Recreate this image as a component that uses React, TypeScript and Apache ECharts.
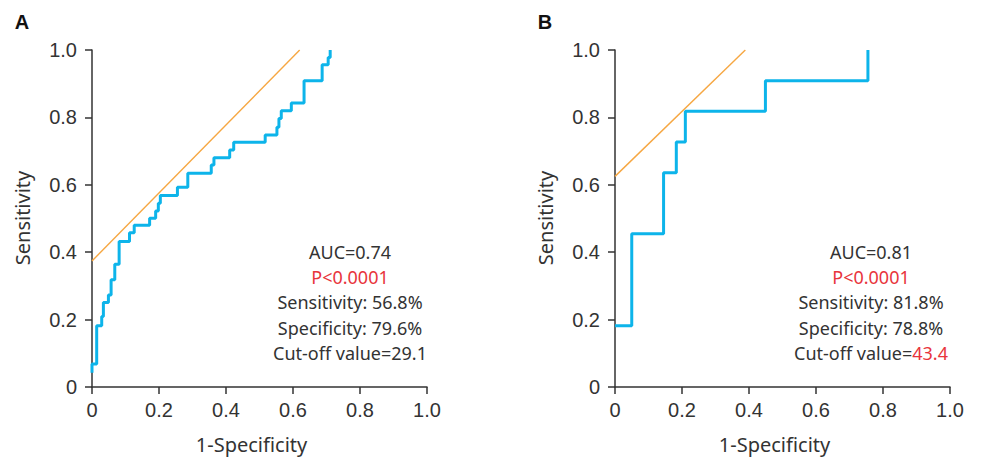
import React, { useEffect, useRef } from "react";
import * as echarts from "echarts";

// Panel A ROC curve (1-specificity, sensitivity) corner points
const fprA = [0, 0, 0.014, 0.029, 0.034, 0.049, 0.057, 0.068, 0.081, 0.112, 0.126, 0.172, 0.19, 0.198, 0.204, 0.255, 0.286, 0.356, 0.364, 0.411, 0.423, 0.517, 0.552, 0.558, 0.565, 0.595, 0.633, 0.687, 0.705, 0.711];
const tprA = [0.042, 0.068, 0.182, 0.209, 0.251, 0.273, 0.318, 0.364, 0.432, 0.458, 0.48, 0.501, 0.522, 0.545, 0.568, 0.593, 0.634, 0.659, 0.68, 0.703, 0.726, 0.748, 0.771, 0.797, 0.82, 0.843, 0.909, 0.956, 0.978, 1.0];
// Panel B ROC curve
const fprB = [0, 0.05, 0.145, 0.183, 0.21, 0.449, 0.755];
const tprB = [0.182, 0.455, 0.636, 0.727, 0.818, 0.909, 1.0];
// Tangent (Youden) lines
const tangentAx = [0, 0.62];
const tangentAy = [0.374, 1.0];
const tangentBx = [0, 0.389];
const tangentBy = [0.625, 1.0];

const tickValues = [0, 0.2, 0.4, 0.6, 0.8, 1.0];
const panelLabels = ["A", "B"];
const annA = ["AUC=0.74", "P<0.0001", "Sensitivity: 56.8%", "Specificity: 79.6%", "Cut-off value=29.1"];
const annB = ["AUC=0.81", "P<0.0001", "Sensitivity: 81.8%", "Specificity: 78.8%", "Cut-off value=", "43.4"];
const xTitle = "1-Specificity";
const yTitle = "Sensitivity";

const BLUE = "#0db4ea";
const ORANGE = "#f6a742";
const DARK = "#333333";
const RED = "#e8343c";
const TXT_FONT = "'Noto Sans', sans-serif";
const TICK_FONT = "'Liberation Sans', Arial, sans-serif";

const zip = (xs: number[], ys: number[]) => xs.map((x, i) => [x, ys[i]]);
const fmt = (v: number) => (v === 0 ? "0" : v.toFixed(1));

export default function App() {
  const ref = useRef<HTMLDivElement>(null);
  useEffect(() => {
    if (!ref.current) return;
    const chart = echarts.init(ref.current, undefined, { renderer: "svg" });
    const grids = [
      { left: 92, top: 50, width: 335, height: 337 },
      { left: 615, top: 50, width: 335, height: 337 },
    ];
    const axisCommon = {
      type: "value" as const,
      min: tickValues[0],
      max: tickValues[tickValues.length - 1],
      interval: 0.2,
      splitLine: { show: false },
      axisLine: { show: true, onZero: false, lineStyle: { color: DARK, width: 1.5 } },
      axisTick: { show: true, inside: false, length: 7, lineStyle: { color: DARK, width: 1.5 } },
      axisLabel: { formatter: fmt, color: DARK, fontSize: 20, fontFamily: TICK_FONT },
    };
    const xAxes = [0, 1].map((i) => ({
      ...axisCommon,
      gridIndex: i,
      axisLabel: { ...axisCommon.axisLabel, margin: 13 },
    }));
    const yAxes = [0, 1].map((i) => ({
      ...axisCommon,
      gridIndex: i,
      axisLabel: { ...axisCommon.axisLabel, margin: 15 },
    }));
    const lineTxt = (cx: number, y: number, text: string, color = DARK) => ({
      type: "text",
      x: cx,
      y,
      style: { text, fill: color, font: `18px ${TXT_FONT}`, align: "center", verticalAlign: "middle" },
    });
    const lineYs = [252, 277, 302, 328, 353];
    const graphics: any[] = [];
    // panel labels
    graphics.push({ type: "text", x: 22, y: 22, style: { text: panelLabels[0], fill: "#111", font: `bold 20px ${TICK_FONT}`, align: "center", verticalAlign: "middle" } });
    graphics.push({ type: "text", x: 545, y: 22, style: { text: panelLabels[1], fill: "#111", font: `bold 20px ${TICK_FONT}`, align: "center", verticalAlign: "middle" } });
    // axis titles
    [0, 1].forEach((i) => {
      const g = grids[i];
      graphics.push({ type: "text", x: g.left + g.width / 2 - 8, y: 444, style: { text: xTitle, fill: DARK, font: `20px ${TXT_FONT}`, align: "center", verticalAlign: "middle" } });
      graphics.push({ type: "text", x: g.left - 70, y: 218, rotation: Math.PI / 2, style: { text: yTitle, fill: DARK, font: `20px ${TXT_FONT}`, align: "center", verticalAlign: "middle" } });
    });
    // annotations A
    annA.forEach((t, k) => graphics.push(lineTxt(350, lineYs[k], t, k === 1 ? RED : DARK)));
    // annotations B
    for (let k = 0; k < 4; k++) graphics.push(lineTxt(871, lineYs[k], annB[k], k === 1 ? RED : DARK));
    graphics.push({
      type: "text",
      x: 871,
      y: lineYs[4],
      style: {
        text: `{a|${annB[4]}}{b|${annB[5]}}`,
        align: "center",
        verticalAlign: "middle",
        rich: {
          a: { fill: DARK, font: `18px ${TXT_FONT}` },
          b: { fill: RED, font: `18px ${TXT_FONT}` },
        },
        font: `18px ${TXT_FONT}`,
      },
    });

    chart.setOption({
      animation: false,
      grid: grids,
      xAxis: xAxes,
      yAxis: yAxes,
      series: [
        { type: "line", xAxisIndex: 0, yAxisIndex: 0, data: zip(tangentAx, tangentAy), showSymbol: false, lineStyle: { color: ORANGE, width: 1.4 }, z: 2 },
        { type: "line", xAxisIndex: 0, yAxisIndex: 0, data: zip(fprA, tprA), step: "end", showSymbol: false, lineStyle: { color: BLUE, width: 3 }, z: 3 },
        { type: "line", xAxisIndex: 1, yAxisIndex: 1, data: zip(tangentBx, tangentBy), showSymbol: false, lineStyle: { color: ORANGE, width: 1.4 }, z: 2 },
        { type: "line", xAxisIndex: 1, yAxisIndex: 1, data: zip(fprB, tprB), step: "end", showSymbol: false, lineStyle: { color: BLUE, width: 3 }, z: 3 },
      ],
      graphic: graphics,
    });
    return () => chart.dispose();
  }, []);
  return <div ref={ref} style={{ position: "absolute", left: 0, top: 0, width: 982, height: 458, background: "#fff" }} />;
}
